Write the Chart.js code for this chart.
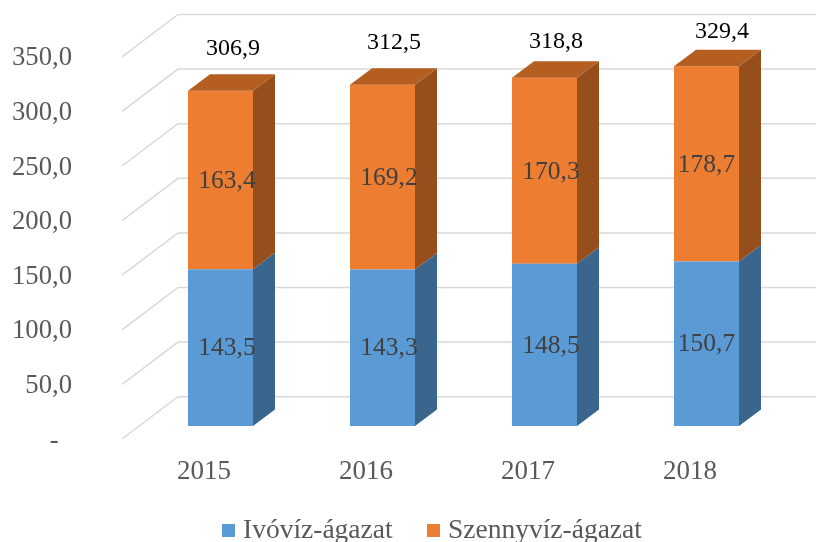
<!DOCTYPE html>
<html>
<head>
<meta charset="utf-8">
<style>
    html, body { margin: 0; padding: 0; background: #fff; overflow: hidden; }
    canvas { display: block; }
</style>
<script src="https://cdn.jsdelivr.net/npm/chart.js@4/dist/chart.umd.min.js"></script>
</head>
<body>
<canvas id="waterChart" width="816" height="542"></canvas>
<script>
const years = ['2015', '2016', '2017', '2018'];
const drinkingWater = [143.5, 143.3, 148.5, 150.7];
const wasteWater = [163.4, 169.2, 170.3, 178.7];
const totals = [306.9, 312.5, 318.8, 329.4];
const seriesNames = ['Ivóvíz-ágazat', 'Szennyvíz-ágazat'];

const fontFamily = '"Liberation Serif", "Times New Roman", serif';

// Depth of the fake 3D look
const depthX = 22;
const depthY = 16.5;

// Where Excel had put the labels, relative to the bar
const innerLabelShift = [6.5, 6.5, 6.5, 0];
const totalShiftX = [12.5, 11.5, 11.5, 15.5];
const totalShiftY = [-42.5, -42, -36.5, -35];

function formatNumber(n) {
    return n.toFixed(1).replace('.', ',');
}

const wallsPlugin = {
    id: 'walls',
    beforeDatasetsDraw(chart) {
        const { ctx, scales: { y }, width } = chart;
        ctx.save();
        ctx.strokeStyle = '#D9D9D9';
        ctx.lineWidth = 1.5;
        y.ticks.forEach((tick) => {
            const py = y.getPixelForValue(tick.value);
            ctx.beginPath();
            ctx.moveTo(122, py + 13);
            ctx.lineTo(178, py - 29.3);
            ctx.lineTo(width, py - 29.3);
            ctx.stroke();
        });
        ctx.restore();
    }
};

const sidesPlugin = {
    id: 'sides',
    afterDatasetsDraw(chart) {
        const { ctx } = chart;
        const sideColors = ['#3A658C', '#964F1C'];
        ctx.save();
        chart.data.datasets.forEach((dataset, i) => {
            chart.getDatasetMeta(i).data.forEach((bar) => {
                const right = bar.x + bar.width / 2;
                const left = bar.x - bar.width / 2;

                ctx.fillStyle = sideColors[i];
                ctx.beginPath();
                ctx.moveTo(right, bar.y);
                ctx.lineTo(right + depthX, bar.y - depthY);
                ctx.lineTo(right + depthX, bar.base - depthY);
                ctx.lineTo(right, bar.base);
                ctx.closePath();
                ctx.fill();

                // only the upper segment shows its top
                if (i === chart.data.datasets.length - 1) {
                    ctx.fillStyle = '#B45E22';
                    ctx.beginPath();
                    ctx.moveTo(left, bar.y);
                    ctx.lineTo(left + depthX, bar.y - depthY);
                    ctx.lineTo(right + depthX, bar.y - depthY);
                    ctx.lineTo(right, bar.y);
                    ctx.closePath();
                    ctx.fill();
                }
            });
        });
        ctx.restore();
    }
};

const labelsPlugin = {
    id: 'valueLabels',
    afterDraw(chart) {
        const { ctx } = chart;
        ctx.save();
        ctx.textAlign = 'center';
        ctx.textBaseline = 'middle';

        ctx.font = '25.5px ' + fontFamily;
        ctx.fillStyle = '#404040';
        chart.data.datasets.forEach((dataset, i) => {
            chart.getDatasetMeta(i).data.forEach((bar, j) => {
                ctx.fillText(formatNumber(dataset.data[j]), bar.x + innerLabelShift[j], (bar.y + bar.base) / 2 + 1);
            });
        });

        ctx.font = '24px ' + fontFamily;
        ctx.fillStyle = '#000';
        chart.getDatasetMeta(1).data.forEach((bar, j) => {
            ctx.fillText(formatNumber(totals[j]), bar.x + totalShiftX[j], bar.y + totalShiftY[j]);
        });

        // legend, Chart.js legend can't get this tight gap between box and text
        ctx.font = '27.5px ' + fontFamily;
        ctx.textAlign = 'left';
        ctx.textBaseline = 'alphabetic';
        const legendStart = [222, 427];
        chart.data.datasets.forEach((dataset, i) => {
            ctx.fillStyle = dataset.backgroundColor;
            ctx.fillRect(legendStart[i], 524, 13, 13);
            ctx.fillStyle = '#595959';
            ctx.fillText(dataset.label, legendStart[i] + 21, 538);
        });
        ctx.restore();
    }
};

new Chart(document.getElementById('waterChart'), {
    type: 'bar',
    data: {
        labels: years,
        datasets: [
            {
                label: seriesNames[0],
                data: drinkingWater,
                backgroundColor: '#5B9BD5',
            },
            {
                label: seriesNames[1],
                data: wasteWater,
                backgroundColor: '#ED7D31',
            },
        ]
    },
    options: {
        responsive: false,
        animation: false,
        maintainAspectRatio: false,
        layout: {
            padding: { top: 43.8, right: 28.5, bottom: 0, left: 0 }
        },
        datasets: {
            bar: {
                categoryPercentage: 1,
                barPercentage: 65 / 162,
            }
        },
        scales: {
            x: {
                stacked: true,
                border: { display: false },
                grid: { display: false, drawTicks: false },
                afterFit: (scale) => { scale.height = 116; },
                ticks: {
                    color: '#595959',
                    padding: 30,
                    labelOffset: -16.5,
                    maxRotation: 0,
                    font: { size: 27, family: fontFamily },
                }
            },
            y: {
                stacked: true,
                min: 0,
                max: 350,
                border: { display: false },
                grid: { display: false, drawTicks: false },
                afterFit: (scale) => {
                    scale.width = 139.5;
                    // big tick padding must not eat the chart height
                    scale.paddingTop = 0;
                    scale.paddingBottom = 0;
                },
                ticks: {
                    stepSize: 50,
                    color: '#595959',
                    padding: 67.5,
                    labelOffset: 14.5,
                    font: { size: 26.67, family: fontFamily },
                    callback: function (value) {
                        return value === 0 ? '-  ' : formatNumber(value);
                    },
                }
            },
        },
        plugins: {
            title: { display: false },
            legend: { display: false },
            tooltip: { enabled: false },
        }
    },
    plugins: [wallsPlugin, sidesPlugin, labelsPlugin],
});
</script>
</body>
</html>
